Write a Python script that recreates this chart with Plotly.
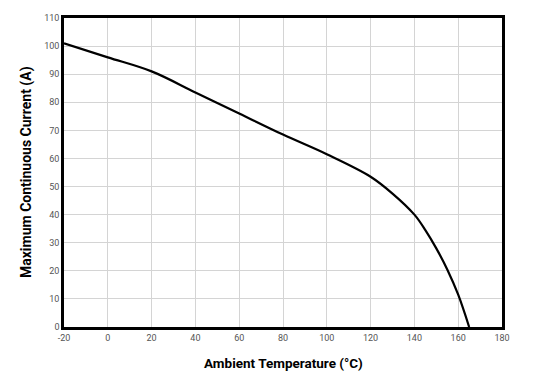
import plotly.graph_objects as go

temp_c = [-20, 0, 20, 40, 60, 80, 100, 120, 130, 140, 145, 150, 155, 160, 165]
current_a = [101, 96, 91, 83.5, 76, 68.5, 61.5, 53.5, 47.5, 40, 34.5, 28, 20.5, 11.5, 0]

x_ticks = [-20, 0, 20, 40, 60, 80, 100, 120, 140, 160, 180]
y_ticks = [0, 10, 20, 30, 40, 50, 60, 70, 80, 90, 100, 110]

x_title = "Ambient Temperature (°C)"
y_title = "Maximum Continuous Current (A)"

fig = go.Figure()
fig.add_trace(go.Scatter(
    x=temp_c, y=current_a, mode="lines",
    line=dict(color="black", width=2.2, shape="spline", smoothing=1.0),
    showlegend=False, hoverinfo="skip",
))

axis_common = dict(
    showgrid=True, gridcolor="#d4d4d4", gridwidth=1,
    showline=True, linecolor="black", linewidth=2.5, mirror=True,
    zeroline=False, ticks="", automargin=False,
    tickfont=dict(family="Roboto, sans-serif", size=9, color="#555555"),
)

# page body has an 8px default margin, so shrink figure to keep plot in place
fig.update_layout(
    width=540, height=370,
    margin=dict(l=56, r=46, t=10, b=51),
    paper_bgcolor="white", plot_bgcolor="white",
    xaxis=dict(range=[-20, 180], tickvals=x_ticks,
               ticktext=[str(v) for v in x_ticks], **axis_common),
    yaxis=dict(range=[0, 110], tickvals=y_ticks,
               ticktext=[str(v) for v in y_ticks], **axis_common),
    annotations=[
        dict(text="<b>" + x_title + "</b>", xref="paper", yref="paper",
             x=0.5, y=0, xanchor="center", yanchor="middle", yshift=-36,
             showarrow=False,
             font=dict(family="Roboto, sans-serif", size=13.5, color="black")),
        dict(text="<b>" + y_title + "</b>", xref="paper", yref="paper",
             x=0, y=0.5, xanchor="center", yanchor="middle", xshift=-37.5,
             textangle=-90, showarrow=False,
             font=dict(family="Roboto, sans-serif", size=14, color="black")),
    ],
)

fig.write_html("out.html")
